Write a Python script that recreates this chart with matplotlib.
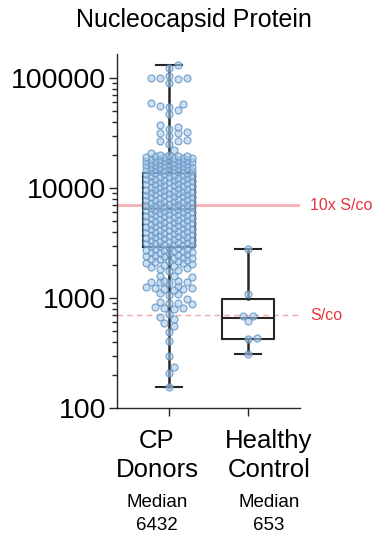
import numpy as np
import matplotlib.pyplot as plt
from matplotlib.ticker import FixedLocator, LogLocator, NullFormatter

plt.rcParams['font.family'] = ['Liberation Sans', 'DejaVu Sans']

title = "Nucleocapsid Protein"
categories = [["CP", "Donors"], ["Healthy", "Control"]]
medians_text = [["Median", "6432"], ["Median", "653"]]
ref_values = [7000, 700]
ref_labels = ["10x S/co", "S/co"]

# values (dense middle estimated)
cp_donors = [
    155, 208, 236, 297, 406, 491, 556, 596, 645, 668, 715,
    790, 805, 815, 830, 880, 895, 905, 920, 980,
    1060, 1080, 1100, 1190, 1210, 1220, 1235, 1245, 1260, 1275,
    1370, 1385, 1400, 1410, 1425, 1440, 1550, 1570, 1590, 1770, 1800, 1830,
    1880, 1920, 1960, 2000, 2030, 2060, 2090, 2120, 2150, 2180, 2210, 2240,
    2270, 2300, 2330, 2360, 2390, 2420, 2450, 2480, 2510, 2540, 2570, 2600,
    2630, 2660, 2690, 2720, 2750, 2780, 2810, 2850, 2880,
    2940, 2970, 3010, 3035, 3070, 3100, 3140, 3165, 3200, 3240,
    3265, 3300, 3340, 3370, 3410, 3450, 3480, 3520, 3560, 3595,
    3630, 3670, 3710, 3750, 3790, 3830, 3870, 3910, 3950, 3995,
    4035, 4080, 4120, 4165, 4210, 4255, 4300, 4345, 4390, 4435,
    4485, 4530, 4580, 4625, 4675, 4725, 4775, 4825, 4875, 4930,
    4980, 5035, 5085, 5140, 5195, 5250, 5305, 5360, 5420, 5475,
    5535, 5590, 5650, 5710, 5770, 5830, 5895, 5955, 6020, 6080,
    6145, 6210, 6275, 6340, 6400,
    6432,
    6460, 6530, 6590, 6660, 6730, 6795, 6865, 6935, 7005, 7075,
    7150, 7220, 7295, 7370, 7445, 7520, 7595, 7670, 7750, 7830,
    7910, 7990, 8070, 8150, 8235, 8315, 8400, 8485, 8570, 8660,
    8745, 8835, 8925, 9015, 9105, 9195, 9290, 9385, 9480, 9575,
    9670, 9770, 9865, 9965, 10070, 10170, 10270, 10375, 10480, 10585,
    10690, 10800, 10910, 11020, 11130, 11240, 11355, 11470, 11585, 11700,
    11820, 11940, 12060, 12180, 12300, 12425, 12550, 12680, 12805, 12935,
    13065, 13200, 13330, 13465, 13600,
    13800, 13910, 14020, 14130, 14240, 14350, 14465, 14580, 14695, 14810,
    14930, 15045, 15165, 15285, 15405, 15530, 15650, 15775, 15900, 16025,
    16150, 16280, 16410, 16540, 16670, 16800, 16935, 17070, 17205, 17340,
    17480, 17615, 17755, 17895, 18040, 18180, 18325, 18470, 18620, 18765,
    18915, 19065, 19215, 19370, 19520, 19675, 19830, 19990,
    20900, 22100, 25100, 26700, 27000, 27300, 29700, 31400, 31800, 32500,
    34200, 36100, 37600, 47100, 51200, 54800, 56000, 58000, 59400,
    90600, 98000, 99500, 100000, 101000, 104000, 124000, 131000,
]
healthy_control = [310, 427, 430, 620, 686, 686, 1087, 2790]
groups = [cp_donors, healthy_control]

# pixel scale of the axes, used to lay points out like a beeswarm
PX_X = 79.0
PX_DEC = 110.0


def box_stats(vals):
    q1, med, q3 = np.percentile(vals, [25, 50, 75], method='weibull')
    return dict(med=med, q1=q1, q3=q3, whislo=min(vals), whishi=max(vals), fliers=[])


def swarm_x(vals, pos, step=0.058, nmax=5, dmin=6.5):
    ypx = np.log10(np.asarray(vals, float)) * PX_DEC
    cands = [0.0]
    for k in range(1, nmax + 1):
        cands += [k * step, -k * step]
    xs = np.zeros(len(vals))
    placed = []
    for i in np.argsort(ypx):
        best, bestd = 0.0, -1.0
        for c in cands:
            d = 99.0
            for px, py in reversed(placed):
                if ypx[i] - py > dmin:
                    break
                d = min(d, np.hypot((c - px) * PX_X, ypx[i] - py))
            if d >= dmin:
                best = c
                break
            if d > bestd:
                best, bestd = c, d
        xs[i] = pos + best
        placed.append((best, ypx[i]))
    return xs


fig = plt.figure(figsize=(3.75, 5.33), dpi=100)
ax = fig.add_axes([117 / 375, 125 / 533, 183 / 375, 354 / 533])
ax.set_yscale('log')
ax.set_ylim(100, 10 ** (2 + 354 / PX_DEC))
ax.set_xlim(-52 / PX_X, 1 + 52 / PX_X)

line_kw = dict(color='#262626', linewidth=1.5)
ax.bxp([box_stats(g) for g in groups], positions=[0, 1], widths=0.66,
       capwidths=0.34, showfliers=False,
       boxprops=line_kw, whiskerprops=dict(color='#262626', linewidth=1.8),
       capprops=line_kw, medianprops=line_kw, zorder=2)

for i, g in enumerate(groups):
    ax.scatter(swarm_x(g, i), g, s=25, facecolor=(0.68, 0.80, 0.91, 0.6),
               edgecolor=(0.38, 0.58, 0.78, 0.8), linewidth=0.9, zorder=3)

ax.axhline(ref_values[0], color='#f6b0b4', linewidth=2.0, zorder=1)
ax.axhline(ref_values[1], color='#f3a5aa', linewidth=1.0, linestyle=(0, (4, 3)), zorder=1)
for v, lab in zip(ref_values, ref_labels):
    ax.text(1.055, v, lab, transform=ax.get_yaxis_transform(), color='#e8333c',
            fontsize=11.5, va='center', ha='left', clip_on=False)

ax.yaxis.set_major_locator(FixedLocator([100, 1000, 10000, 100000]))
ax.set_yticklabels(['100', '1000', '10000', '100000'])
ax.yaxis.set_minor_locator(LogLocator(base=10, subs=np.arange(2, 10)))
ax.yaxis.set_minor_formatter(NullFormatter())
ax.tick_params(axis='y', which='major', length=6, width=1.0, labelsize=20.5, pad=2, color='#262626')
ax.tick_params(axis='y', which='minor', length=3.5, width=1.0, color='#262626')
ax.set_xticks([0, 1])
ax.set_xticklabels(['', ''])
ax.tick_params(axis='x', length=6, width=1.0, color='#262626')
for side in ['top', 'right']:
    ax.spines[side].set_visible(False)
for side in ['left', 'bottom']:
    ax.spines[side].set_color('#262626')
    ax.spines[side].set_linewidth(1.0)

fig.text(194 / 375, 1 - 27 / 533, title, ha='center', va='baseline', fontsize=18)
for xc, cat, med in zip([157, 269], categories, medians_text):
    for txt, yb in zip(cat, [448, 477]):
        fig.text(xc / 375, 1 - yb / 533, txt, ha='center', va='baseline', fontsize=18.5)
    for txt, yb in zip(med, [507, 530]):
        fig.text(xc / 375, 1 - yb / 533, txt, ha='center', va='baseline', fontsize=13.5)

fig.savefig('out.png', dpi=100)
